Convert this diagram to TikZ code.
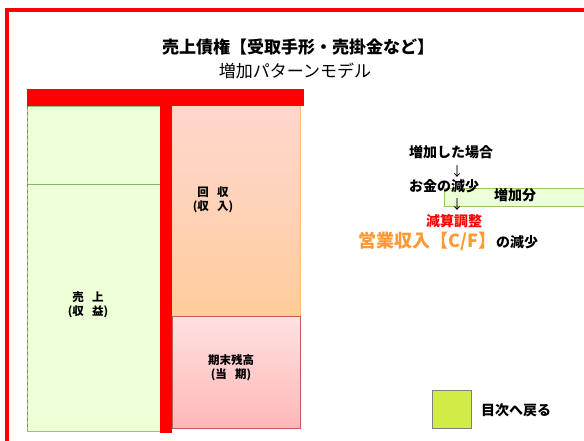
\documentclass[tikz,border=0pt]{standalone}
\usepackage{fontspec}
\setmainfont{Noto Sans CJK JP}
\definecolor{frame}{RGB}{255,0,0}
\definecolor{greenfill}{RGB}{236,255,214}
\definecolor{greenline}{RGB}{150,200,100}
\definecolor{pinktop}{RGB}{255,214,204}
\definecolor{peach}{RGB}{255,204,153}
\definecolor{pinkfill}{RGB}{255,204,204}
\definecolor{pinkline}{RGB}{200,90,90}
\definecolor{orangetxt}{RGB}{255,153,51}
\definecolor{legendfill}{RGB}{210,235,70}
\tikzset{
  boxlabel/.style={align=center,font=\fontsize{11.5}{14}\selectfont\bfseries,inner sep=0pt},
  sidetext/.style={font=\fontsize{14}{16}\selectfont\bfseries,inner sep=0pt,anchor=west},
  arrowtext/.style={font=\fontsize{13}{14}\selectfont,inner sep=0pt},
  redbar/.style={fill=frame,draw=none}
}
\begin{document}
\begin{tikzpicture}[x=1pt,y=-1pt]
\useasboundingbox (0,0) rectangle (584,441);
\fill[white] (0,0) rectangle (584,441);
% outer frame
\draw[frame,line width=4pt] (7,10) rectangle (592,443);
% title
\node[font=\fontsize{17}{20}\selectfont\bfseries,inner sep=0pt] (t1) at (298,47) {売上債権【受取手形・売掛金など】};
\node[font=\fontsize{17}{20}\selectfont,inner sep=0pt] (t2) at (295,71) {増加パターンモデル};
% left box
\draw[greenline,fill=greenfill,line width=0.8pt] (27,106) rectangle (160,431);
\draw[greenline!70!gray,line width=0.8pt] (27,184) -- (160,184);
\draw[gray,dashed,line width=0.8pt] (27,106) -- (27,431);
\node[boxlabel] (uri) at (88,305) {売\hspace{0.7em}上\\(収\hspace{0.7em}益)};
% middle boxes
\shade[top color=pinktop,bottom color=peach,middle color=pinktop!60!peach] (172,106) rectangle (300,316);
\draw[peach!80!orange,line width=0.8pt] (300,106) -- (300,316);
\node[boxlabel] (kai) at (213,200) {回\hspace{0.7em}収\\(収\hspace{0.7em}入)};
\shade[top color=pinkfill!60!white,bottom color=pinkfill!90!red] (172,316) rectangle (300,428);
\draw[pinkline,line width=0.8pt] (172,316) rectangle (300,428);
\node[boxlabel] (kimatsu) at (231,368) {期末残高\\(当\hspace{0.7em}期)};
% red T
\fill[redbar] (27,89) rectangle (304,106);
\fill[redbar] (160,106) rectangle (172,433);
% right side
\node[sidetext] (z1) at (409,152) {増加した場合};
\node[arrowtext] (a1) at (457,172) {↓};
\draw[greenline,fill=greenfill,line width=0.8pt] (444,188) rectangle (586,206);
\node[sidetext] (okane) at (409,186) {お金の減少};
\node[sidetext] (zoka) at (494,195) {増加分};
\node[arrowtext] (a2) at (457,205) {↓};
\node[sidetext,text=frame] (gen) at (426,221) {減算調整};
\node[font=\fontsize{18}{20}\selectfont\bfseries,text=orangetxt,inner sep=0pt,anchor=west] (eig) at (358,241) {営業収入【C/F】\textcolor{black}{\fontsize{14}{16}\selectfont の減少}};
% legend
\draw[gray,fill=legendfill,line width=1pt] (432,390) rectangle (471,428);
\node[sidetext] (mok) at (481,410) {目次へ戻る};
\end{tikzpicture}
\end{document}
